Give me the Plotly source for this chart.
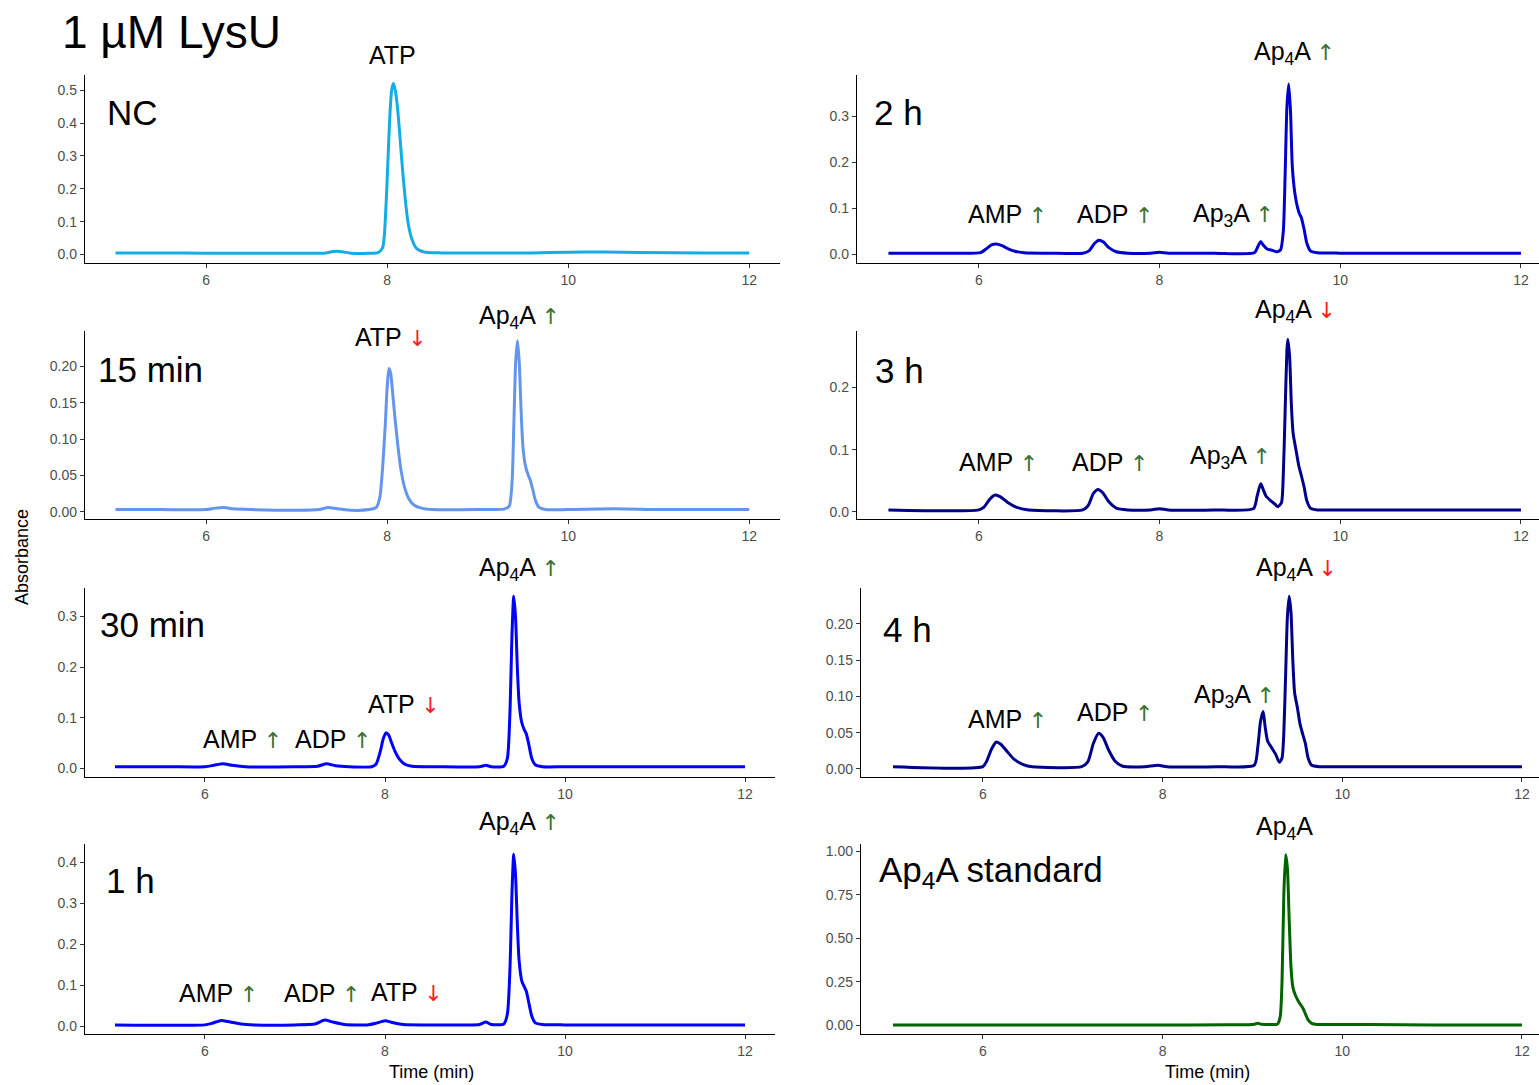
import plotly.graph_objects as go

W, H = 1539, 1085

# ---------------- data (time in min, absorbance) ----------------
t_nc = [5.0, 5.5, 6.0, 6.5, 7.0, 7.3, 7.4, 7.45, 7.52, 7.6, 7.8, 7.9, 7.95, 7.97, 7.99, 8.01, 8.03, 8.05, 8.07,
        8.09, 8.11, 8.13, 8.15, 8.17, 8.20, 8.23, 8.27, 8.32, 8.38, 8.45, 8.6, 9.0, 9.6, 10.0, 10.4, 10.8, 11.5, 12.0]
a_nc = [0.005, 0.005, 0.004, 0.004, 0.004, 0.004, 0.009, 0.010, 0.008, 0.004, 0.004, 0.006, 0.02, 0.06, 0.16, 0.29,
        0.42, 0.50, 0.52, 0.50, 0.46, 0.40, 0.33, 0.26, 0.17, 0.10, 0.05, 0.02, 0.01, 0.006, 0.005, 0.005, 0.005,
        0.007, 0.008, 0.006, 0.005, 0.005]

t_15 = [5.0, 5.5, 6.0, 6.1, 6.2, 6.3, 6.5, 7.0, 7.25, 7.35, 7.45, 7.6, 7.8, 7.88, 7.92, 7.95, 7.98, 8.00, 8.02,
        8.04, 8.06, 8.09, 8.12, 8.15, 8.19, 8.24, 8.30, 8.38, 8.5, 9.0, 9.3, 9.35, 9.38, 9.40, 9.42, 9.44, 9.46,
        9.48, 9.50, 9.53, 9.56, 9.58, 9.61, 9.64, 9.68, 9.75, 10.0, 10.5, 11.0, 11.5, 12.0]
a_15 = [0.003, 0.003, 0.003, 0.005, 0.006, 0.004, 0.003, 0.002, 0.003, 0.006, 0.004, 0.002, 0.003, 0.006, 0.02,
        0.06, 0.12, 0.17, 0.197, 0.19, 0.165, 0.125, 0.09, 0.06, 0.035, 0.018, 0.009, 0.005, 0.003, 0.003, 0.004,
        0.008, 0.04, 0.12, 0.205, 0.235, 0.205, 0.14, 0.09, 0.062, 0.05, 0.044, 0.03, 0.015, 0.006, 0.003, 0.003,
        0.004, 0.003, 0.003, 0.003]

t_30 = [5.0, 5.6, 6.0, 6.1, 6.2, 6.3, 6.45, 7.0, 7.25, 7.35, 7.45, 7.6, 7.85, 7.9, 7.95, 7.98, 8.01, 8.04, 8.07,
        8.11, 8.16, 8.22, 8.3, 8.6, 9.05, 9.12, 9.18, 9.32, 9.36, 9.39, 9.41, 9.43, 9.45, 9.47, 9.49, 9.52, 9.55,
        9.57, 9.60, 9.63, 9.67, 9.75, 10.0, 11.0, 12.0]
a_30 = [0.003, 0.003, 0.003, 0.006, 0.009, 0.006, 0.003, 0.003, 0.004, 0.009, 0.005, 0.003, 0.003, 0.008, 0.035,
        0.058, 0.07, 0.066, 0.052, 0.034, 0.018, 0.008, 0.004, 0.003, 0.003, 0.006, 0.003, 0.004, 0.02, 0.12, 0.26,
        0.34, 0.30, 0.20, 0.13, 0.09, 0.075, 0.068, 0.045, 0.02, 0.007, 0.003, 0.003, 0.003, 0.003]

t_1h = [5.0, 6.0, 6.08, 6.18, 6.28, 6.4, 6.55, 7.0, 7.22, 7.33, 7.42, 7.55, 7.8, 7.9, 8.0, 8.08, 8.2, 8.5, 9.05,
        9.12, 9.18, 9.32, 9.36, 9.39, 9.41, 9.43, 9.45, 9.47, 9.49, 9.52, 9.55, 9.57, 9.60, 9.63, 9.67, 9.75,
        10.0, 11.0, 12.0]
a_1h = [0.003, 0.003, 0.007, 0.014, 0.010, 0.005, 0.003, 0.003, 0.005, 0.015, 0.010, 0.004, 0.003, 0.007, 0.013,
        0.009, 0.004, 0.003, 0.004, 0.010, 0.004, 0.005, 0.03, 0.15, 0.32, 0.42, 0.37, 0.25, 0.16, 0.11, 0.095,
        0.085, 0.055, 0.025, 0.008, 0.004, 0.003, 0.003, 0.003]

t_2h = [5.0, 5.6, 6.02, 6.08, 6.14, 6.19, 6.25, 6.32, 6.4, 6.5, 6.8, 7.15, 7.22, 7.28, 7.33, 7.38, 7.44, 7.52,
        7.65, 7.9, 8.0, 8.1, 8.6, 9.05, 9.09, 9.12, 9.15, 9.19, 9.25, 9.30, 9.34, 9.37, 9.39, 9.41, 9.43, 9.45,
        9.47, 9.50, 9.53, 9.55, 9.57, 9.60, 9.63, 9.67, 9.75, 10.0, 11.0, 12.0]
a_2h = [0.003, 0.003, 0.004, 0.012, 0.021, 0.023, 0.020, 0.013, 0.007, 0.004, 0.003, 0.003, 0.008, 0.024, 0.031,
        0.027, 0.015, 0.006, 0.003, 0.003, 0.005, 0.003, 0.003, 0.004, 0.018, 0.028, 0.020, 0.012, 0.009, 0.006,
        0.010, 0.05, 0.17, 0.32, 0.37, 0.31, 0.19, 0.13, 0.10, 0.088, 0.080, 0.055, 0.025, 0.008, 0.004, 0.003,
        0.003, 0.003]

t_3h = [5.0, 6.0, 6.06, 6.12, 6.18, 6.24, 6.32, 6.42, 6.55, 7.15, 7.21, 7.27, 7.32, 7.37, 7.44, 7.52, 7.65, 7.9,
        8.0, 8.1, 8.6, 9.04, 9.08, 9.12, 9.15, 9.18, 9.23, 9.28, 9.31, 9.35, 9.37, 9.39, 9.41, 9.42, 9.44, 9.46,
        9.48, 9.51, 9.54, 9.57, 9.60, 9.63, 9.67, 9.75, 10.0, 11.0, 12.0]
a_3h = [0.003, 0.003, 0.008, 0.020, 0.027, 0.024, 0.015, 0.007, 0.003, 0.003, 0.010, 0.030, 0.036, 0.031, 0.016,
        0.006, 0.003, 0.003, 0.005, 0.003, 0.003, 0.005, 0.025, 0.045, 0.035, 0.025, 0.018, 0.012, 0.008, 0.015,
        0.06, 0.16, 0.26, 0.278, 0.25, 0.17, 0.125, 0.10, 0.075, 0.058, 0.04, 0.018, 0.006, 0.003, 0.003, 0.003,
        0.003]

t_4h = [5.0, 6.0, 6.04, 6.10, 6.15, 6.20, 6.27, 6.35, 6.45, 6.55, 7.1, 7.17, 7.23, 7.29, 7.34, 7.40, 7.47, 7.55,
        7.8, 7.95, 8.05, 8.6, 9.02, 9.06, 9.09, 9.12, 9.14, 9.17, 9.21, 9.26, 9.30, 9.33, 9.35, 9.37, 9.39, 9.41,
        9.43, 9.45, 9.47, 9.50, 9.53, 9.56, 9.59, 9.62, 9.66, 9.75, 10.0, 11.0, 12.0]
a_4h = [0.003, 0.003, 0.010, 0.028, 0.037, 0.034, 0.024, 0.013, 0.006, 0.003, 0.003, 0.010, 0.035, 0.049, 0.043,
        0.026, 0.011, 0.004, 0.003, 0.005, 0.003, 0.003, 0.005, 0.03, 0.065, 0.079, 0.06, 0.038, 0.030, 0.020,
        0.009, 0.015, 0.05, 0.13, 0.21, 0.238, 0.215, 0.15, 0.105, 0.085, 0.062, 0.048, 0.035, 0.015, 0.005,
        0.003, 0.003, 0.003, 0.003]

t_std = [5.0, 8.0, 8.7, 9.0, 9.06, 9.1, 9.2, 9.28, 9.31, 9.33, 9.35, 9.37, 9.39, 9.41, 9.43, 9.45, 9.48, 9.52,
         9.56, 9.59, 9.62, 9.66, 9.72, 10.0, 10.3, 11.0, 12.0]
a_std = [0.0, 0.0, 0.002, 0.003, 0.010, 0.005, 0.003, 0.006, 0.05, 0.25, 0.75, 0.98, 0.90, 0.60, 0.33, 0.22,
         0.17, 0.13, 0.10, 0.065, 0.03, 0.01, 0.004, 0.003, 0.003, 0.0, 0.0]

x_ticks = [6, 8, 10, 12]

# ---------------- layout helpers ----------------
def px(x, y):
    return x / W, 1 - y / H

# name, t, a, colour, x-px (left,right), y-px (top,bottom), xrange, yrange, yticks, fmt
panels = [
    ("NC", t_nc, a_nc, "#13ADE6", (85, 780), (74, 262), [4.663, 12.34], [-0.0243, 0.5466],
     [0, 0.1, 0.2, 0.3, 0.4, 0.5], ".1f"),
    ("2 h", t_2h, a_2h, "#0000CD", (857, 1539), (74, 262), [4.652, 12.2], [-0.0173, 0.3896],
     [0, 0.1, 0.2, 0.3], ".1f"),
    ("15 min", t_15, a_15, "#6495ED", (85, 780), (331, 519), [4.663, 12.34], [-0.010, 0.248],
     [0, 0.05, 0.10, 0.15, 0.20], ".2f"),
    ("3 h", t_3h, a_3h, "#00008B", (857, 1539), (331, 519), [4.652, 12.2], [-0.0117, 0.2905],
     [0, 0.1, 0.2], ".1f"),
    ("30 min", t_30, a_30, "#0000FF", (85, 775), (588, 777), [4.667, 12.333], [-0.0164, 0.3566],
     [0, 0.1, 0.2, 0.3], ".1f"),
    ("4 h", t_4h, a_4h, "#00008B", (861, 1539), (588, 777), [4.644, 12.19], [-0.0106, 0.2495],
     [0, 0.05, 0.10, 0.15, 0.20], ".2f"),
    ("1 h", t_1h, a_1h, "#0000FF", (85, 775), (845, 1035), [4.667, 12.333], [-0.0195, 0.4439],
     [0, 0.1, 0.2, 0.3, 0.4], ".1f"),
    ("std", t_std, a_std, "#006400", (861, 1539), (845, 1035), [4.644, 12.19], [-0.0516, 1.0384],
     [0, 0.25, 0.50, 0.75, 1.00], ".2f"),
]

FONT = "Liberation Sans, Arial, sans-serif"
fig = go.Figure()
layout = dict(width=W, height=H, margin=dict(l=0, r=0, t=0, b=0),
              paper_bgcolor="white", plot_bgcolor="white", showlegend=False,
              font=dict(family=FONT))

for i, (name, t, a, col, xp, yp, xr, yr, yt, fmt) in enumerate(panels):
    k = "" if i == 0 else str(i + 1)
    fig.add_trace(go.Scatter(x=t, y=a, mode="lines", xaxis="x" + k, yaxis="y" + k,
                             line=dict(color=col, width=3, shape="spline", smoothing=0.6),
                             hoverinfo="skip"))
    x0, y1 = px(xp[0], yp[0])
    x1, y0 = px(xp[1], yp[1])
    layout["xaxis" + k] = dict(domain=[x0, min(x1, 1.0)], range=xr, anchor="y" + k,
                               showline=True, linecolor="black", linewidth=1.4,
                               ticks="outside", ticklen=4, tickcolor="#333333", tickwidth=1,
                               tickvals=x_ticks, showgrid=False, zeroline=False,
                               tickfont=dict(size=14, color="#4D4D4D", family=FONT))
    layout["yaxis" + k] = dict(domain=[y0, y1], range=yr, anchor="x" + k,
                               showline=True, linecolor="black", linewidth=1.4,
                               ticks="outside", ticklen=4, tickcolor="#333333", tickwidth=1,
                               tickvals=yt, tickformat=fmt, showgrid=False, zeroline=False,
                               tickfont=dict(size=14, color="#4D4D4D", family=FONT))

fig.update_layout(**layout)

UP = "<span style='color:#3A7030;font-family:DejaVu Sans;font-size:22px'>↑</span>"
DN = "<span style='color:#FF1A1A;font-family:DejaVu Sans;font-size:22px'>↓</span>"
A4 = "Ap<sub>4</sub>A"
A3 = "Ap<sub>3</sub>A"

# peak labels: (text, centre x px, centre y px)
peak_labels = [
    ("ATP", 392, 54),
    (A4 + " " + UP, 1294, 52), ("AMP " + UP, 1007, 213), ("ADP " + UP, 1115, 213), (A3 + " " + UP, 1233, 214),
    ("ATP " + DN, 391, 337), (A4 + " " + UP, 519, 317),
    (A4 + " " + DN, 1295, 311), ("AMP " + UP, 998, 462), ("ADP " + UP, 1110, 462), (A3 + " " + UP, 1230, 457),
    (A4 + " " + UP, 519, 569), ("ATP " + DN, 404, 704), ("AMP " + UP, 242, 739), ("ADP " + UP, 333, 739),
    (A4 + " " + DN, 1296, 569), ("AMP " + UP, 1007, 719), ("ADP " + UP, 1115, 712), (A3 + " " + UP, 1234, 696),
    (A4 + " " + UP, 519, 824), ("AMP " + UP, 218, 994), ("ADP " + UP, 322, 994), ("ATP " + DN, 407, 993),
    (A4, 1284, 829),
]
for txt, x, y in peak_labels:
    ax, ay = px(x, y)
    fig.add_annotation(text=txt, x=ax, y=ay, xref="paper", yref="paper", xanchor="center", yanchor="middle",
                       showarrow=False, font=dict(size=25, color="black", family=FONT))

# panel labels: (text, left x px, centre y px)
panel_labels = [("NC", 105, 112), ("15 min", 96, 369), ("30 min", 98, 625), ("1 h", 104, 881),
                ("2 h", 872, 112), ("3 h", 873, 370), ("4 h", 881, 630), (A4 + " standard", 877, 873)]
for txt, x, y in panel_labels:
    ax, ay = px(x, y)
    fig.add_annotation(text=txt, x=ax, y=ay, xref="paper", yref="paper", xanchor="left", yanchor="middle",
                       showarrow=False, font=dict(size=35, color="black", family=FONT))

ax, ay = px(60, 31)
fig.add_annotation(text="1 µM LysU", x=ax, y=ay, xref="paper", yref="paper", xanchor="left", yanchor="middle",
                   showarrow=False, font=dict(size=46, color="black", family=FONT))

ax, ay = px(22, 557)
fig.add_annotation(text="Absorbance", x=ax, y=ay, xref="paper", yref="paper", textangle=-90,
                   xanchor="center", yanchor="middle", showarrow=False,
                   font=dict(size=18, color="black", family=FONT))
for cx in (431, 1207):
    ax, ay = px(cx, 1073)
    fig.add_annotation(text="Time (min)", x=ax, y=ay, xref="paper", yref="paper",
                       xanchor="center", yanchor="middle", showarrow=False,
                       font=dict(size=18, color="black", family=FONT))

fig.write_html("out.html")
